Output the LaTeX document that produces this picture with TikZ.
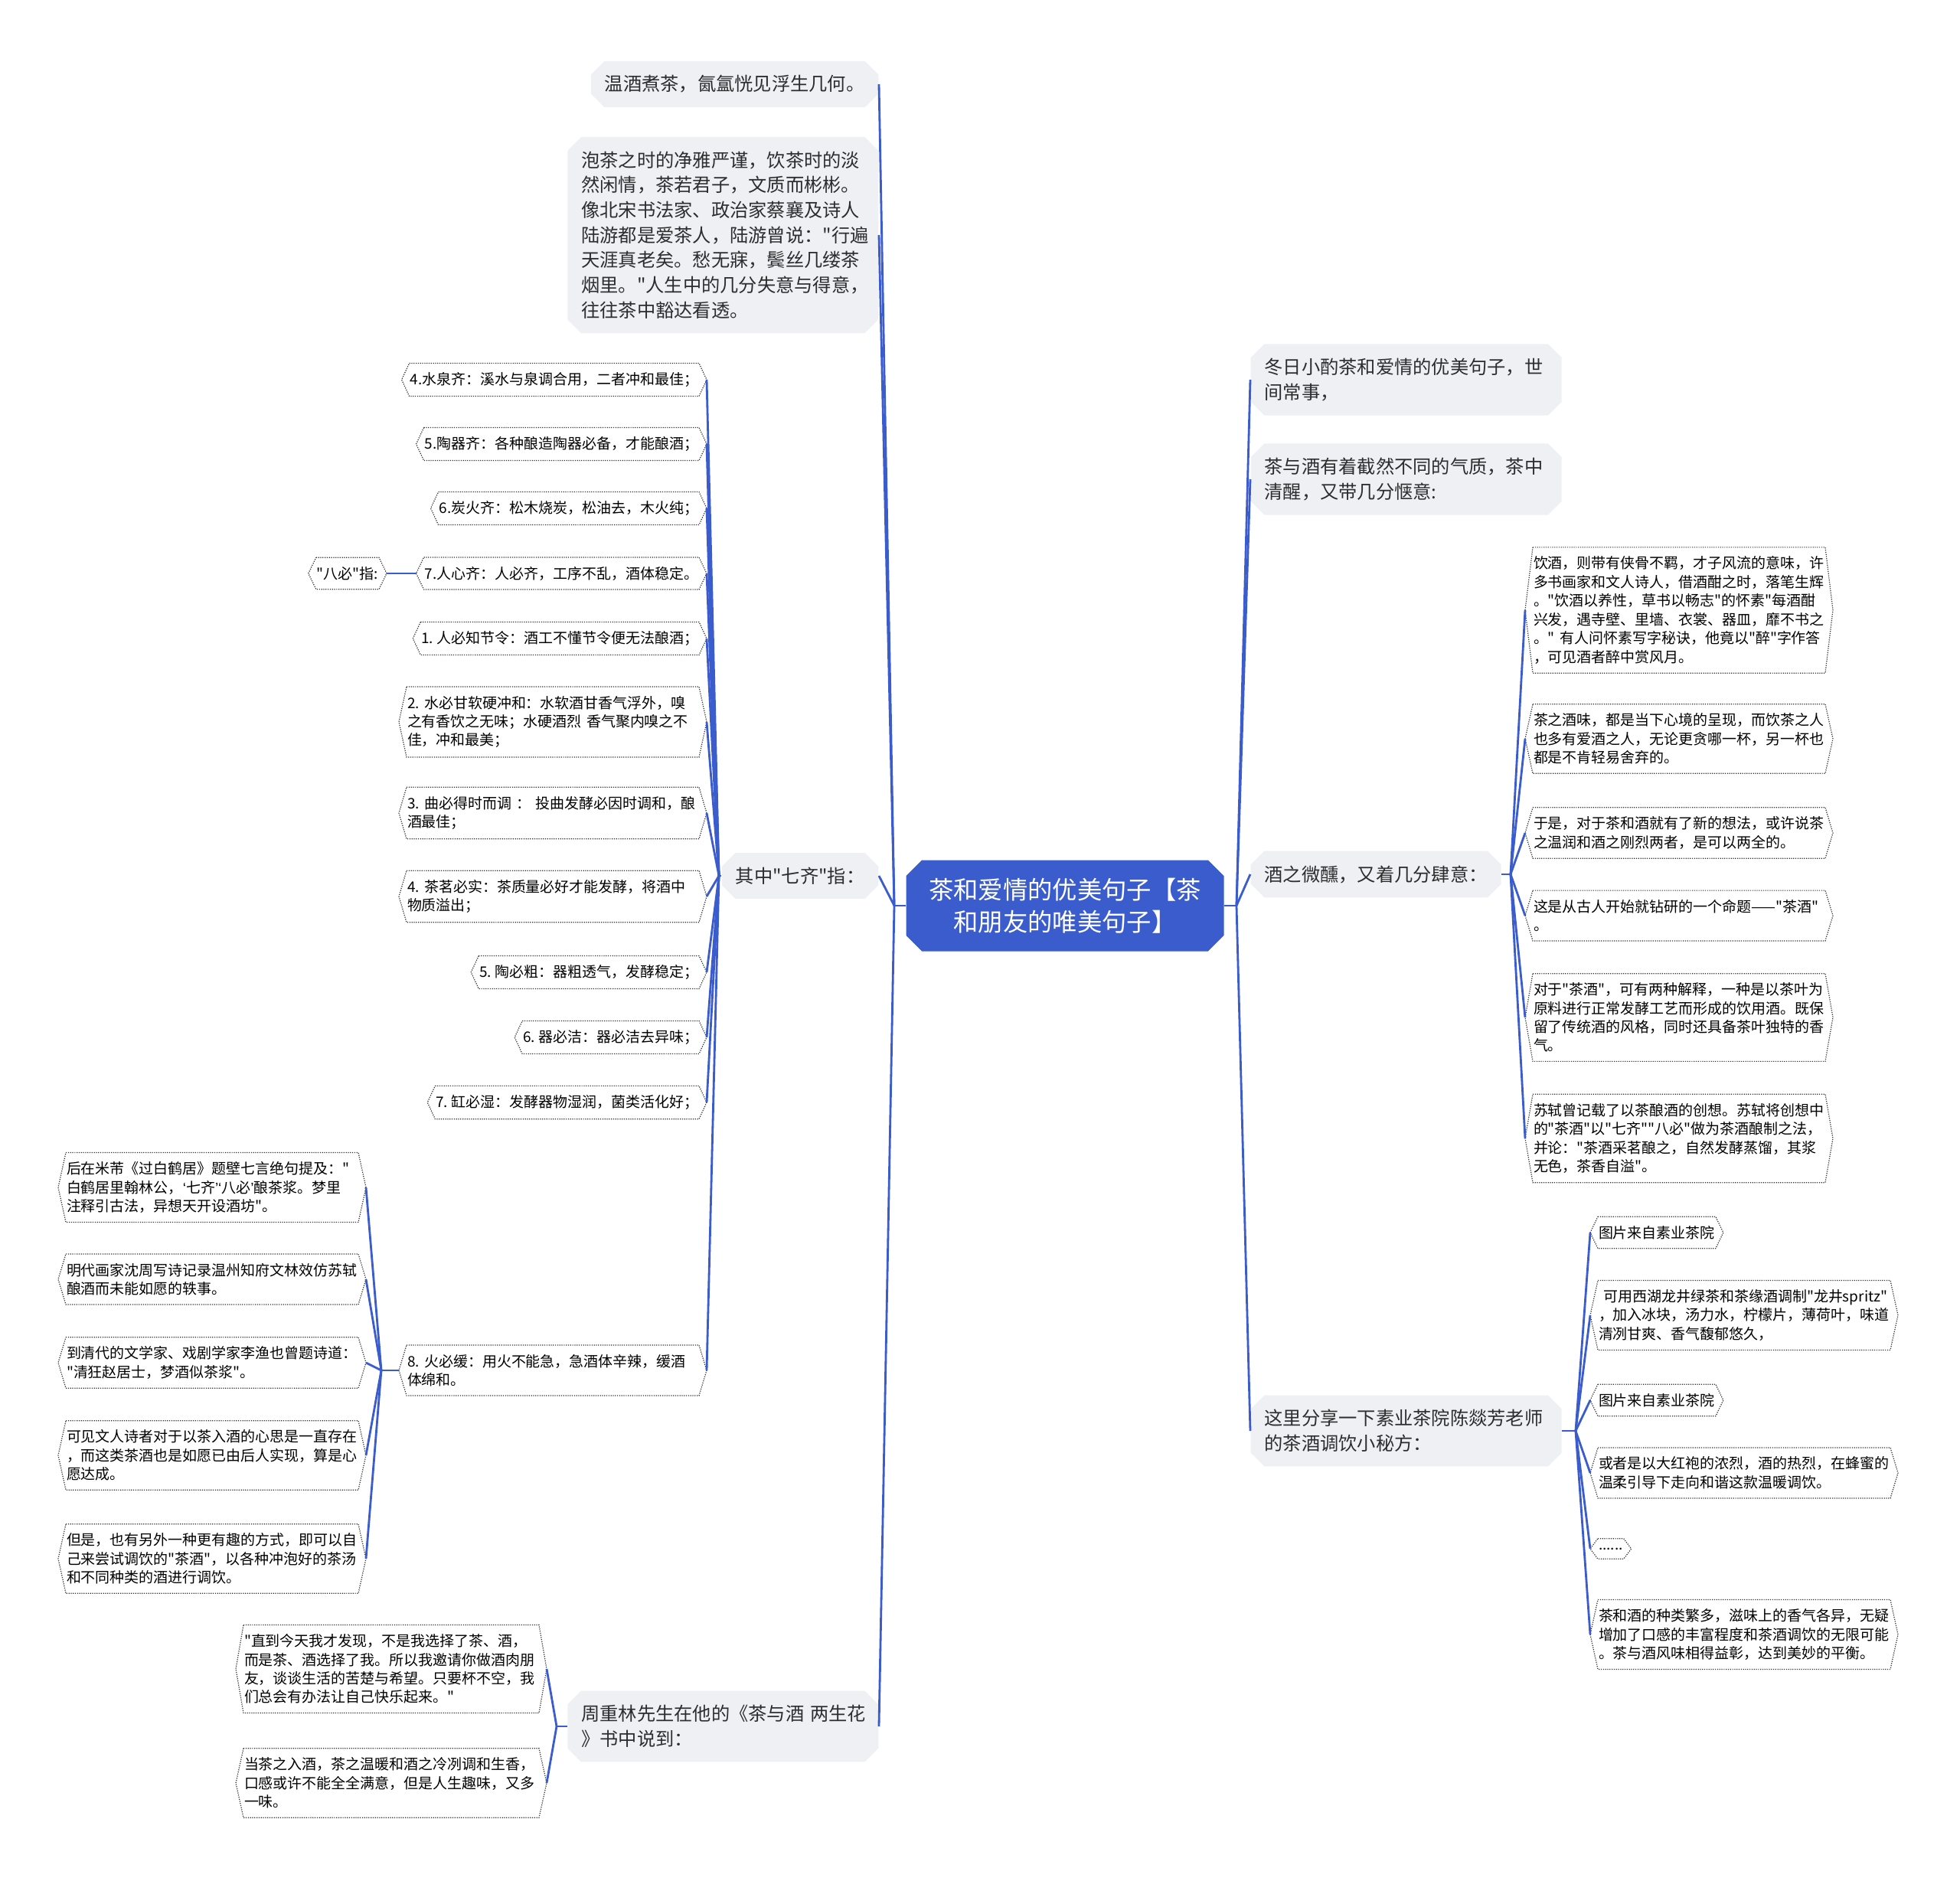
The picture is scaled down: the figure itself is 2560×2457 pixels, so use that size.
\documentclass[tikz,border=0pt]{standalone}
\usepackage{fontspec}
\setmainfont{Noto Sans CJK SC}[Ligatures=TeXOff]
\newfontfamily\latinq{Liberation Sans}
\usetikzlibrary{shapes.misc}
\definecolor{mapblue}{RGB}{59,92,204}
\definecolor{boxgray}{RGB}{238,240,243}
\definecolor{inkgray}{RGB}{45,45,45}
\newcommand\hexframe[1]{%
  \draw[leafline] ([xshift=1mm]#1.north west) -- ([xshift=-1mm]#1.north east) -- (#1.east)
    -- ([xshift=-1mm]#1.south east) -- ([xshift=1mm]#1.south west) -- (#1.west) -- cycle;}
\tikzset{
  root/.style={chamfered rectangle, chamfered rectangle xsep=0.8mm, fill=mapblue, text=white, align=center, font=\fontsize{9.2pt}{12pt}\selectfont, minimum width=41.5mm, minimum height=11.9mm, inner sep=0pt},
  topic/.style={chamfered rectangle, chamfered rectangle xsep=0.5mm, fill=boxgray, text=inkgray, align=left, font=\fontsize{6.9pt}{9.3pt}\selectfont, inner xsep=1.3mm, inner ysep=0.6mm},
  wtopic/.style={topic, text width=37mm},
  leaf/.style={rectangle, outer sep=0pt, text=black, align=left, font=\fontsize{5.4pt}{6.95pt}\selectfont, inner xsep=1.1mm, inner ysep=1.2mm},
  wleaf/.style={leaf, text width=38mm},
  leafline/.style={draw=black!80, dash pattern=on 0.35pt off 0.45pt, line width=0.35pt},
  link/.style={draw=mapblue, line width=0.8pt},
}
\begin{document}
\begin{tikzpicture}[x=0.1mm, y=-0.1mm]
\fill[white] (0,0) rectangle (2560,2457);
\useasboundingbox (0,0) rectangle (2560,2457);

% central topic
\node[root] (tea) at (1391,1183) {茶和爱情的优美句子【茶\\和朋友的唯美句子】};

% first level, left side
\node[topic, anchor=east] (warm) at (1148,110) {温酒煮茶，氤氲恍见浮生几何。};
\node[wtopic, anchor=east] (brew) at (1148,307)
  {泡茶之时的净雅严谨，饮茶时的淡\\然闲情，茶若君子，文质而彬彬。\\像北宋书法家、政治家蔡襄及诗人\\陆游都是爱茶人，陆游曾说："行遍\\天涯真老矣。愁无寐，鬓丝几缕茶\\烟里。"人生中的几分失意与得意，\\往往茶中豁达看透。};
\node[topic, anchor=east] (qiqi) at (1148,1144) {其中"七齐"指：};
\node[wtopic, anchor=east] (zhou) at (1148,2255) {周重林先生在他的《茶与酒~两生花\\》书中说到：};

% first level, right side
\node[wtopic, anchor=west] (winter) at (1633,496) {冬日小酌茶和爱情的优美句子，世\\间常事，};
\node[wtopic, anchor=west] (temper) at (1633,626) {茶与酒有着截然不同的气质，茶中\\清醒，又带几分惬意:};
\node[topic, anchor=west] (wine) at (1633,1142) {酒之微醺，又着几分肆意：};
\node[wtopic, anchor=west] (recipe) at (1633,1869) {这里分享一下素业茶院陈燚芳老师\\的茶酒调饮小秘方：};

\coordinate (jl) at (1168,1183);
\coordinate (jr) at (1615,1183);
\draw[link] (tea.west) -- (jl);
\draw[link] (tea.east) -- (jr);
\foreach \n in {warm,brew,qiqi,zhou}
  \draw[link] (jl) -- (\n.east);
\foreach \n in {winter,temper,wine,recipe}
  \draw[link] (jr) -- (\n.west);

% "七齐" and "八必" items
\coordinate (jq) at (939,1144);
\draw[link] (qiqi.west) -- (jq);
\foreach \nm/\y/\txt in {
  q1/496/{4.水泉齐：溪水与泉调合用，二者冲和最佳；},
  q2/580/{5.陶器齐：各种酿造陶器必备，才能酿酒；},
  q3/664/{6.炭火齐：松木烧炭，松油去，木火纯；},
  q4/749/{7.人心齐：人必齐，工序不乱，酒体稳定。},
  q5/834/{1.~人必知节令：酒工不懂节令便无法酿酒；},
  q9/1270/{5.~陶必粗：器粗透气，发酵稳定；},
  q10/1355/{6.~器必洁：器必洁去异味；},
  q11/1440/{7.~缸必湿：发酵器物湿润，菌类活化好；}} {
  \node[leaf, anchor=east] (\nm) at (923,\y) {\txt};
  \hexframe{\nm}
}
\foreach \nm/\y/\txt in {
  q6/943/{2.~水必甘软硬冲和：水软酒甘香气浮外，嗅\\之有香饮之无味；水硬酒烈~香气聚内嗅之不\\佳，冲和最美；},
  q7/1062/{3.~曲必得时而调~：~投曲发酵必因时调和，酿\\酒最佳；},
  q8/1171/{4.~茶茗必实：茶质量必好才能发酵，将酒中\\物质溢出；},
  q12/1790/{8.~火必缓：用火不能急，急酒体辛辣，缓酒\\体绵和。}} {
  \node[wleaf, anchor=east] (\nm) at (923,\y) {\txt};
  \hexframe{\nm}
}
\foreach \n in {q1,q2,q3,q4,q5,q6,q7,q8,q9,q10,q11,q12}
  \draw[link] (jq) -- (\n.east);

\node[leaf, anchor=east] (ba) at (505,749) {"八必"指:};
\hexframe{ba}
\draw[link] (q4.west) -- (ba.east);

% poems under item 8
\coordinate (jh) at (498,1790);
\draw[link] (q12.west) -- (jh);
\foreach \nm/\y/\txt in {
  h1/1551/{后在米芾《过白鹤居》题壁七言绝句提及："\\白鹤居里翰林公，{\latinq‘}七齐{\latinq’}{\latinq‘}八必{\latinq’}酿茶浆。梦里\\注释引古法，异想天开设酒坊"。},
  h2/1671/{明代画家沈周写诗记录温州知府文林效仿苏轼\\酿酒而未能如愿的轶事。},
  h3/1780/{到清代的文学家、戏剧学家李渔也曾题诗道：\\"清狂赵居士，梦酒似茶浆"。},
  h4/1901/{可见文人诗者对于以茶入酒的心思是一直存在\\，而这类茶酒也是如愿已由后人实现，算是心\\愿达成。},
  h5/2036/{但是，也有另外一种更有趣的方式，即可以自\\己来尝试调饮的"茶酒"，以各种冲泡好的茶汤\\和不同种类的酒进行调饮。}} {
  \node[wleaf, anchor=east] (\nm) at (478,\y) {\txt};
  \hexframe{\nm}
  \draw[link] (jh) -- (\nm.east);
}

% quotes from the book
\coordinate (jz) at (727,2255);
\draw[link] (zhou.west) -- (jz);
\foreach \nm/\y/\txt in {
  z1/2180/{"直到今天我才发现，不是我选择了茶、酒，\\而是茶、酒选择了我。所以我邀请你做酒肉朋\\友，谈谈生活的苦楚与希望。只要杯不空，我\\们总会有办法让自己快乐起来。"},
  z2/2329/{当茶之入酒，茶之温暖和酒之冷冽调和生香，\\口感或许不能全全满意，但是人生趣味，又多\\一味。}} {
  \node[wleaf, anchor=east, text width=38.4mm] (\nm) at (714,\y) {\txt};
  \hexframe{\nm}
  \draw[link] (jz) -- (\nm.east);
}

% about wine
\coordinate (jw) at (1973,1142);
\draw[link] (wine.east) -- (jw);
\foreach \nm/\y/\txt in {
  w1/797/{饮酒，则带有侠骨不羁，才子风流的意味，许\\多书画家和文人诗人，借酒酣之时，落笔生辉\\。"饮酒以养性，草书以畅志"的怀素"每酒酣\\兴发，遇寺壁、里墙、衣裳、器皿，靡不书之\\。"~有人问怀素写字秘诀，他竟以"醉"字作答\\，可见酒者醉中赏风月。},
  w2/965/{茶之酒味，都是当下心境的呈现，而饮茶之人\\也多有爱酒之人，无论更贪哪一杯，另一杯也\\都是不肯轻易舍弃的。},
  w3/1088/{于是，对于茶和酒就有了新的想法，或许说茶\\之温润和酒之刚烈两者，是可以两全的。},
  w4/1196/{这是从古人开始就钻研的一个命题——"茶酒"\\。},
  w5/1329/{对于"茶酒"，可有两种解释，一种是以茶叶为\\原料进行正常发酵工艺而形成的饮用酒。既保\\留了传统酒的风格，同时还具备茶叶独特的香\\气。},
  w6/1487/{苏轼曾记载了以茶酿酒的创想。苏轼将创想中\\的"茶酒"以"七齐""八必"做为茶酒酿制之法，\\并论："茶酒采茗酿之，自然发酵蒸馏，其浆\\无色，茶香自溢"。}} {
  \node[wleaf, anchor=west] (\nm) at (1992,\y) {\txt};
  \hexframe{\nm}
  \draw[link] (jw) -- (\nm.west);
}

% recipe items
\coordinate (jc) at (2058,1869);
\draw[link] (recipe.east) -- (jc);
\foreach \nm/\y/\txt in {
  r1/1610/{图片来自素业茶院},
  r3/1829/{图片来自素业茶院},
  r5/2023/{......}} {
  \node[leaf, anchor=west] (\nm) at (2077,\y) {\txt};
  \hexframe{\nm}
}
\foreach \nm/\y/\txt in {
  r2/1718/{~可用西湖龙井绿茶和茶缘酒调制"龙井spritz"\\，加入冰块，汤力水，柠檬片，薄荷叶，味道\\清冽甘爽、香气馥郁悠久，},
  r4/1924/{或者是以大红袍的浓烈，酒的热烈，在蜂蜜的\\温柔引导下走向和谐这款温暖调饮。},
  r6/2135/{茶和酒的种类繁多，滋味上的香气各异，无疑\\增加了口感的丰富程度和茶酒调饮的无限可能\\。茶与酒风味相得益彰，达到美妙的平衡。}} {
  \node[wleaf, anchor=west] (\nm) at (2077,\y) {\txt};
  \hexframe{\nm}
}
\foreach \n in {r1,r2,r3,r4,r5,r6}
  \draw[link] (jc) -- (\n.west);

\end{tikzpicture}
\end{document}
